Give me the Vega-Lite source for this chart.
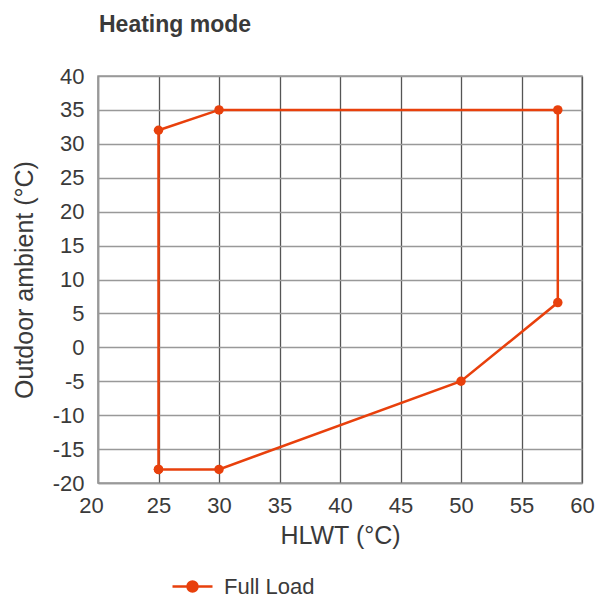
{
  "$schema": "https://vega.github.io/schema/vega-lite/v6.json",
  "width": 484,
  "height": 407,
  "autosize": "none",
  "padding": {"left": 98, "top": 76, "right": 14, "bottom": 115},
  "background": "white",
  "title": {
    "text": "Heating mode",
    "anchor": "start",
    "frame": "group",
    "font": "Liberation Sans",
    "fontSize": 23,
    "fontWeight": "bold",
    "color": "#3a3a3a",
    "offset": 28,
    "dx": 1
  },
  "config": {
    "view": {"stroke": "#999999", "strokeWidth": 1.5},
    "font": "Liberation Sans"
  },
  "data": {
    "values": [
      {"order": 1, "hlwt": 25, "ambient": -18, "series": "Full Load"},
      {"order": 2, "hlwt": 25, "ambient": 32, "series": "Full Load"},
      {"order": 3, "hlwt": 30, "ambient": 35, "series": "Full Load"},
      {"order": 4, "hlwt": 58, "ambient": 35, "series": "Full Load"},
      {"order": 5, "hlwt": 58, "ambient": 6.6, "series": "Full Load"},
      {"order": 6, "hlwt": 50, "ambient": -5, "series": "Full Load"},
      {"order": 7, "hlwt": 30, "ambient": -18, "series": "Full Load"},
      {"order": 8, "hlwt": 25, "ambient": -18, "series": "Full Load"}
    ]
  },
  "mark": {"type": "line", "strokeWidth": 2.5, "point": {"filled": true, "size": 90}},
  "encoding": {
    "x": {
      "field": "hlwt", "type": "quantitative",
      "scale": {"domain": [20, 60], "nice": false, "zero": false},
      "axis": {
        "title": "HLWT (°C)", "values": [20,25,30,35,40,45,50,55,60],
        "grid": true, "gridColor": "#555555", "gridWidth": 1.3,
        "domainColor": "#999999", "domainWidth": 1.5,
        "ticks": false, "labelPadding": 12, "labelFlush": false,
        "labelOffset": {"condition": {"test": "datum.value == 20", "value": -7}, "value": 0},
        "labelExpr": "'' + datum.value",
        "labelFontSize": 22, "labelColor": "#3a3a3a", "labelFont": "Liberation Sans",
        "titleFontSize": 25, "titleFontWeight": "normal", "titleColor": "#3a3a3a", "titlePadding": 7, "titleFont": "Liberation Sans"
      }
    },
    "y": {
      "field": "ambient", "type": "quantitative",
      "scale": {"domain": [-20, 40], "nice": false, "zero": false},
      "axis": {
        "title": "Outdoor ambient (°C)", "values": [-20,-15,-10,-5,0,5,10,15,20,25,30,35,40],
        "grid": true, "gridColor": "#999999", "gridWidth": 1.5,
        "domainColor": "#999999", "domainWidth": 1.5,
        "ticks": false, "labelPadding": 14, "labelFlush": false,
        "labelExpr": "'' + datum.value",
        "labelFontSize": 22, "labelColor": "#3a3a3a", "labelFont": "Liberation Sans",
        "titleFontSize": 25, "titleFontWeight": "normal", "titleColor": "#3a3a3a", "titlePadding": 15, "titleFont": "Liberation Sans"
      }
    },
    "order": {"field": "order", "type": "quantitative"},
    "color": {
      "field": "series", "type": "nominal",
      "scale": {"domain": ["Full Load"], "range": ["#e8400c"]},
      "legend": {
        "title": null,
        "orient": "none",
        "legendX": 73,
        "legendY": 489,
        "symbolType": "M-1,0H1M0.25,0A0.25,0.25 0 1,1 -0.25,0A0.25,0.25 0 1,1 0.25,0Z",
        "symbolSize": 1600,
        "symbolStrokeWidth": 2.5,
        "symbolFillColor": "#e8400c",
        "symbolStrokeColor": "#e8400c",
        "labelFontSize": 22,
        "labelColor": "#3a3a3a",
        "labelFont": "Liberation Sans",
        "labelOffset": 10
      }
    }
  }
}
